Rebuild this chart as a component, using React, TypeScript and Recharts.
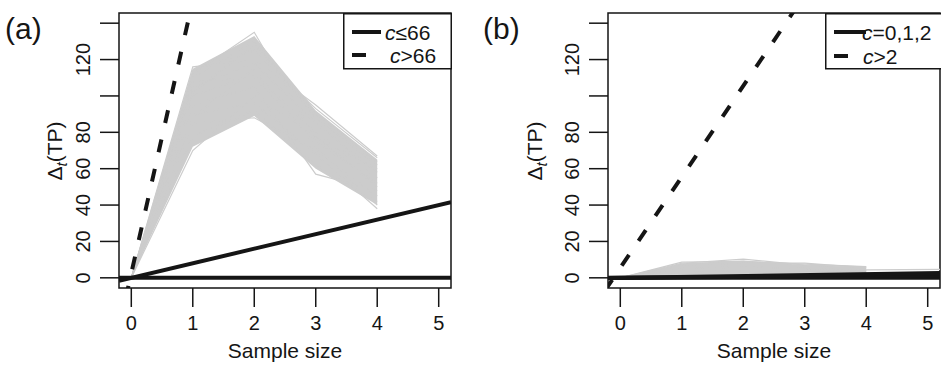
import React from 'react';
import { ComposedChart, Line, Area, XAxis, YAxis, ReferenceArea, ReferenceDot } from 'recharts';

const sampleSizes = [0, 1, 2, 3, 4];
const xTicks = [0, 1, 2, 3, 4, 5];
const yTicks = [0, 20, 40, 60, 80, 100, 120, 140];
const yTickLabels = ['0', '20', '40', '60', '80', '', '120', ''];
const xDomain = [-0.2, 5.2];
const yDomain = [-5.6, 145.6];
const edgeX = [-0.2, 5.2];

// panel (a): simulated curves, one value per sample size
const greyA = [
  [0, 116, 120, 95, 67],
  [0, 112, 135, 77, 60],
  [0, 114, 125, 93, 66],
  [0, 110, 130, 88, 62],
  [0, 105, 118, 85, 58],
  [0, 100, 112, 80, 55],
  [0, 95, 105, 57, 48],
  [0, 90, 96, 68, 38],
  [0, 85, 88, 70, 45],
  [0, 70, 100, 78, 50],
  [0, 78, 92, 62, 42],
  [0, 108, 110, 75, 52],
  [0, 102, 128, 90, 64],
  [0, 88, 115, 72, 40],
];
const bandLowA = [0, 72, 89, 60, 40];
const bandHighA = [0, 115, 133, 92, 65];
const solidA = [
  [0, 0],
  [-1.6, 41.6],
];
const dashedXA = [-0.2, 1.2];
const dashedA = [-27.5, 182.5];

// panel (b)
const greyB = [
  [0, 8.6, 9, 7.5, 6.2],
  [0, 8, 10.3, 7, 6],
  [0, 7, 8, 8.1, 5.5],
  [0, 5, 6, 5, 4],
  [0, 3, 4, 3.5, 3],
];
const tailXB = [0, 1, 2, 3, 4, 5.2];
const tailB = [0, 3, 4, 4, 4.4, 4.6];
const bandLowB = [0, 1, 1.5, 1.5, 1.5];
const bandHighB = [0, 8, 9.5, 7, 5.8];
const solidB = [
  [0, 0],
  [-0.05, 1.3],
  [-0.1, 2.6],
];
const dashedXB = [-0.25, 3];
const dashedB = [-7, 155.5];

const FONT = '"Liberation Sans", Arial, Helvetica, sans-serif';
const INK = '#151515';
const GREY = '#cccccc';

const toPoints = (xs: number[], ys: number[]) => ys.map((y, i) => ({ x: xs[i], y }));

// axis ticks keep their tick lines, labels are drawn through reference dots
const noTickText = () => <g />;

// rotated y tick label, anchored on the left edge of the plot
const yTickLabel = (text: string) => (props: any) => {
  const vb = props.viewBox || {};
  const x = (vb.x ?? 0) - 29;
  const y = vb.y ?? 0;
  return (
    <text x={x} y={y} transform={`rotate(-90, ${x}, ${y})`} textAnchor="middle" fontSize={20} fill={INK} fontFamily={FONT}>
      {text}
    </text>
  );
};

const xTickLabel = (text: string) => (props: any) => {
  const vb = props.viewBox || {};
  return (
    <text x={vb.x ?? 0} y={(vb.y ?? 0) + 42} textAnchor="middle" fontSize={20} fill={INK} fontFamily={FONT}>
      {text}
    </text>
  );
};

interface PanelProps {
  left: number;
  width: number;
  axisWidth: number;
  marginRight: number;
  titleOffset: number;
  grey: number[][];
  bandLow: number[];
  bandHigh: number[];
  solid: number[][];
  dashedX: number[];
  dashed: number[];
  tail?: { x: number; y: number }[];
}

const Panel: React.FC<PanelProps> = ({ left, width, axisWidth, marginRight, titleOffset, grey, bandLow, bandHigh, solid, dashedX, dashed, tail }) => {
  const band = sampleSizes.map((x, i) => ({ x, band: [bandLow[i], bandHigh[i]] }));
  const titleX = axisWidth - titleOffset;
  const titleY = 151;
  const renderTitle = () => (
    <text x={titleX} y={titleY} transform={`rotate(-90, ${titleX}, ${titleY})`} textAnchor="middle" fontSize={21} fill={INK} fontFamily={FONT}>
      Δ
      <tspan fontStyle="italic" fontSize={15} dy={5}>t</tspan>
      <tspan dy={-5}>(TP)</tspan>
    </text>
  );
  return (
    <div style={{ position: 'absolute', left, top: 0 }}>
      <ComposedChart width={width} height={365} data={band} margin={{ top: 13, right: marginRight, bottom: 0, left: 0 }} style={{ fontFamily: FONT }}>
        <XAxis
          type="number"
          dataKey="x"
          domain={xDomain}
          ticks={xTicks}
          interval={0}
          allowDataOverflow
          height={77}
          tickSize={19}
          axisLine={false}
          tickLine={{ stroke: INK, strokeWidth: 1.5 }}
          tick={noTickText}
          label={{ value: 'Sample size', position: 'insideBottom', offset: 7, fill: INK, fontSize: 21, fontFamily: FONT }}
        />
        <YAxis
          type="number"
          domain={yDomain}
          ticks={yTicks}
          interval={0}
          allowDataOverflow
          width={axisWidth}
          tickSize={19}
          axisLine={false}
          tickLine={{ stroke: INK, strokeWidth: 1.5 }}
          tick={noTickText}
          label={renderTitle}
        />
        <Area dataKey="band" stroke="none" fill={GREY} fillOpacity={1} isAnimationActive={false} dot={false} activeDot={false} />
        {grey.map((vals, i) => (
          <Line key={'g' + i} data={toPoints(sampleSizes, vals)} dataKey="y" stroke={GREY} strokeWidth={1.2} dot={false} activeDot={false} isAnimationActive={false} />
        ))}
        {tail && <Line data={tail} dataKey="y" stroke={GREY} strokeWidth={1.2} dot={false} activeDot={false} isAnimationActive={false} />}
        {solid.map((vals, i) => (
          <Line key={'s' + i} data={toPoints(edgeX, vals)} dataKey="y" stroke={INK} strokeWidth={4} dot={false} activeDot={false} isAnimationActive={false} />
        ))}
        <Line data={toPoints(dashedX, dashed)} dataKey="y" stroke={INK} strokeWidth={4} strokeDasharray="13 17" dot={false} activeDot={false} isAnimationActive={false} />
        <ReferenceArea x1={xDomain[0]} x2={xDomain[1]} y1={yDomain[0]} y2={yDomain[1]} fill="none" stroke={INK} strokeWidth={1.5} ifOverflow="visible" />
        {yTicks.map((v, i) =>
          yTickLabels[i] ? (
            <ReferenceDot key={'yl' + i} x={xDomain[0]} y={v} r={0} fill="none" stroke="none" ifOverflow="visible" label={yTickLabel(yTickLabels[i])} />
          ) : null
        )}
        {xTicks.map((v, i) => (
          <ReferenceDot key={'xl' + i} x={v} y={yDomain[0]} r={0} fill="none" stroke="none" ifOverflow="visible" label={xTickLabel(String(v))} />
        ))}
      </ComposedChart>
    </div>
  );
};

interface LegendProps {
  left: number;
  width: number;
  solidLen: number;
  textX: number[];
  rows: { pre: string; rest: string; y: number }[];
}

const LegendBox: React.FC<LegendProps> = ({ left, width, solidLen, textX, rows }) => (
  <svg style={{ position: 'absolute', left, top: 13 }} width={width} height={57}>
    <rect x={0.75} y={0.75} width={width - 1.5} height={55} fill="#fff" stroke={INK} strokeWidth={1.5} />
    <line x1={9} x2={9 + solidLen} y1={rows[0].y} y2={rows[0].y} stroke={INK} strokeWidth={4} />
    <line x1={9} x2={23} y1={rows[1].y} y2={rows[1].y} stroke={INK} strokeWidth={4} />
    {rows.map((r, i) => (
      <text key={i} x={textX[i]} y={r.y + 7.5} fontSize={21} fill={INK} fontFamily={FONT}>
        <tspan fontStyle="italic">{r.pre}</tspan>
        {r.rest}
      </text>
    ))}
  </svg>
);

const PanelLabel: React.FC<{ left: number; text: string }> = ({ left, text }) => (
  <div style={{ position: 'absolute', left, top: 14, fontSize: 30, lineHeight: '30px', fontFamily: FONT, color: INK }}>{text}</div>
);

export default function App() {
  return (
    <div style={{ position: 'absolute', left: 0, top: 0, width: 941, height: 365, background: '#fff', overflow: 'hidden' }}>
      <Panel left={0} width={470} axisWidth={119} marginRight={19} titleOffset={57} grey={greyA} bandLow={bandLowA} bandHigh={bandHighA} solid={solidA} dashedX={dashedXA} dashed={dashedA} />
      <Panel
        left={470}
        width={471}
        axisWidth={138}
        marginRight={1}
        titleOffset={66}
        grey={greyB}
        bandLow={bandLowB}
        bandHigh={bandHighB}
        solid={solidB}
        dashedX={dashedXB}
        dashed={dashedB}
        tail={toPoints(tailXB, tailB)}
      />
      <LegendBox
        left={343}
        width={109}
        solidLen={29}
        textX={[42, 47]}
        rows={[
          { pre: 'c', rest: '≤66', y: 19 },
          { pre: 'c', rest: '>66', y: 42 },
        ]}
      />
      <LegendBox
        left={825}
        width={118}
        solidLen={32}
        textX={[37, 38]}
        rows={[
          { pre: 'c', rest: '=0,1,2', y: 19 },
          { pre: 'c', rest: '>2', y: 43 },
        ]}
      />
      <PanelLabel left={5} text="(a)" />
      <PanelLabel left={483} text="(b)" />
    </div>
  );
}
